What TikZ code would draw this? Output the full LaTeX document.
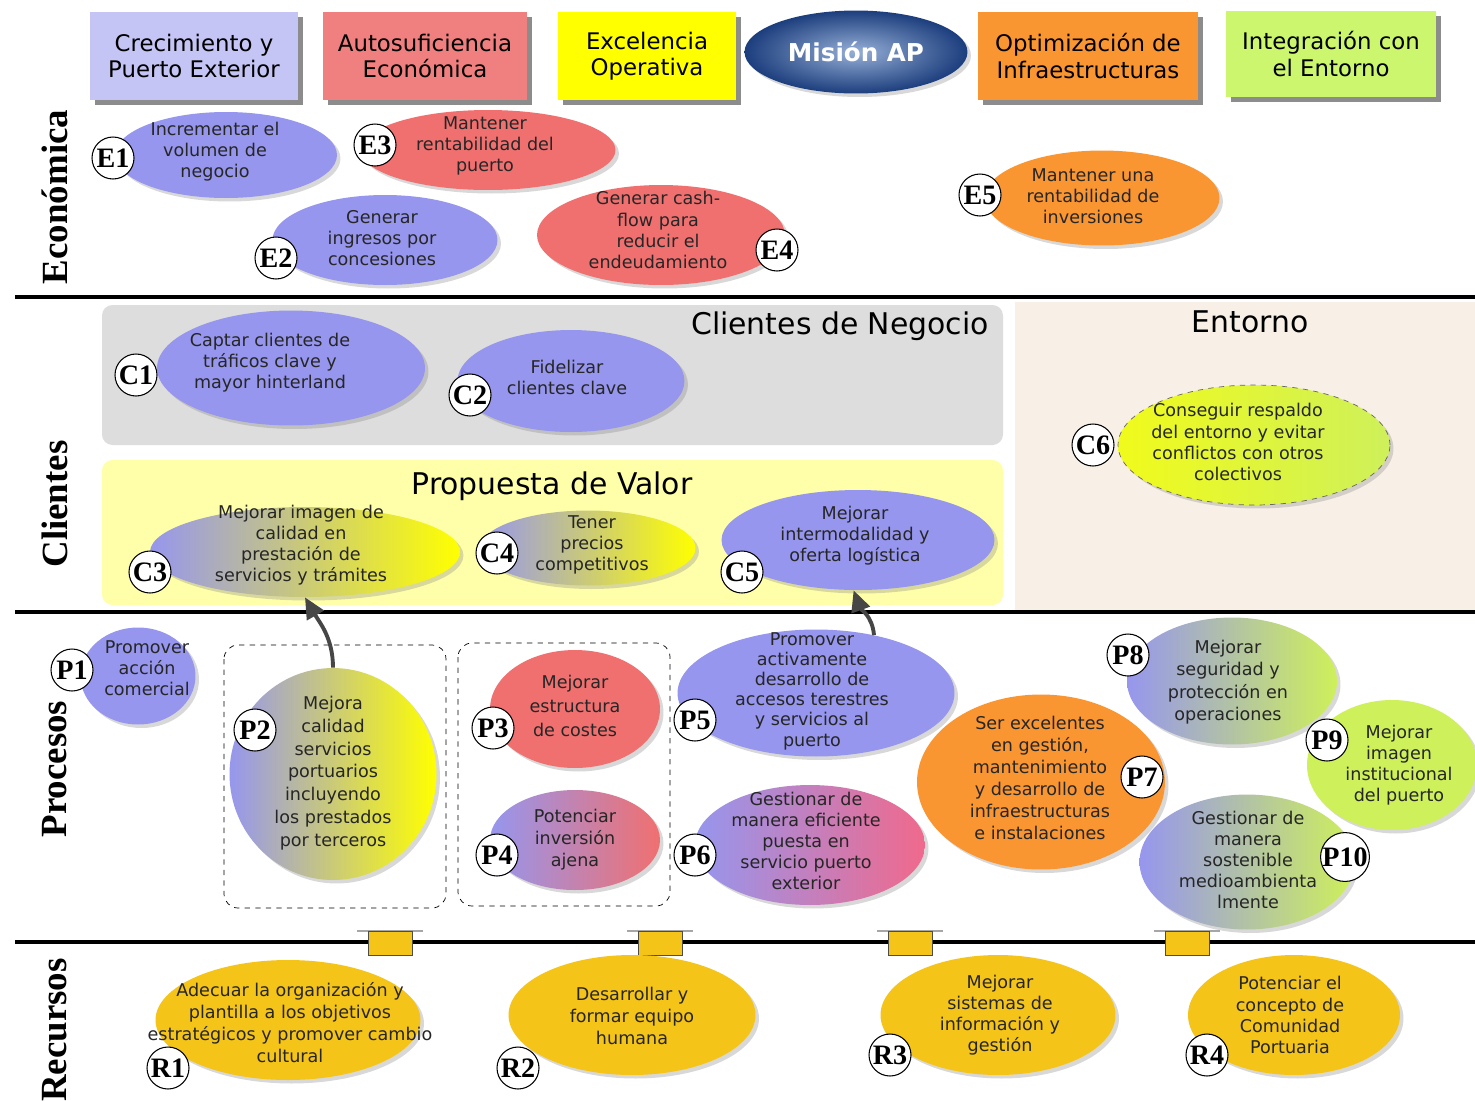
\documentclass[tikz,border=0pt]{standalone}
\usepackage{fontspec}
\setmainfont{DejaVu Sans}
\newfontfamily\tagfont{Liberation Serif}
\usetikzlibrary{arrows.meta,positioning,shapes.geometric,calc,shadows}
\definecolor{lav}{RGB}{150,150,238}
\definecolor{hdrlav}{RGB}{196,196,245}
\definecolor{hdrred}{RGB}{240,128,128}
\definecolor{ovred}{RGB}{240,112,112}
\definecolor{hdryel}{RGB}{255,255,0}
\definecolor{ovorange}{RGB}{250,150,50}
\definecolor{hdrgreen}{RGB}{204,246,110}
\definecolor{ovgreen}{RGB}{206,240,90}
\definecolor{ovgold}{RGB}{245,196,25}
\definecolor{ovpink}{RGB}{240,105,140}
\definecolor{midgray}{RGB}{185,185,175}
\definecolor{boxgray}{RGB}{221,221,221}
\definecolor{boxyel}{RGB}{255,255,170}
\definecolor{boxbeige}{RGB}{248,240,230}
\definecolor{misdark}{RGB}{28,62,125}
\definecolor{mislight}{RGB}{150,175,215}

\begin{document}
\begin{tikzpicture}[x=0.02cm,y=-0.02cm,
  hdr/.style={rectangle, minimum height=1.76cm, align=center, inner sep=0pt,
    font=\fontsize{13}{15}\selectfont,
    drop shadow={shadow xshift=0.1cm, shadow yshift=-0.1cm, fill=black!45, opacity=1}},
  oval/.style={ellipse, inner sep=0pt,
    drop shadow={shadow xshift=0.07cm, shadow yshift=-0.07cm, opacity=0.3}},
  txt/.style={align=center, inner sep=0pt, text=black!85, font=\fontsize{10}{12}\selectfont},
  tag/.style={circle, draw, line width=0.6pt, fill=white, inner sep=0pt, minimum size=0.84cm,
    font=\tagfont\bfseries\fontsize{16}{16}\selectfont},
  side/.style={rotate=90, font=\tagfont\bfseries\fontsize{21}{21}\selectfont},
  sectitle/.style={font=\fontsize{17}{19}\selectfont},
  sep/.style={line width=2.3pt},
  flow/.style={-{Triangle[length=0.42cm,width=0.38cm]}, line width=2.2pt, draw=gray!55!black}]
  \fill[white] (0,0) rectangle (1475,1100);
  \useasboundingbox (0,0) rectangle (1475,1100);

  % cabecera
  \node[hdr, fill=hdrlav, minimum width=4.16cm] (h1) at (194,56) {Crecimiento y\\Puerto Exterior};
  \node[hdr, fill=hdrred, minimum width=4.1cm] (h2) at (425,56) {Autosuficiencia\\Económica};
  \node[hdr, fill=hdryel, minimum width=3.58cm] (h3) at (647,56) {Excelencia\\Operativa};
  \node[oval, minimum width=4.46cm, minimum height=1.66cm, inner color=mislight, outer color=misdark,
    text=white, font=\bfseries\fontsize{14}{14}\selectfont] (mision) at (856,52) {Misión AP};
  \node[hdr, fill=ovorange, minimum width=4.4cm] (h4) at (1088,56) {Optimización de\\Infraestructuras};
  \node[hdr, fill=hdrgreen, minimum width=4.2cm, minimum height=1.74cm] (h5) at (1331,54) {Integración con\\el Entorno};

  % fondos
  \fill[boxgray, rounded corners=6pt] (102,305) rectangle (1003,445);
  \fill[boxyel, rounded corners=6pt] (102,460) rectangle (1003,605);
  \fill[boxbeige] (1015,302) rectangle (1475,610);
  \node[sectitle] (negocio) at (840,326) {Clientes de Negocio};
  \node[sectitle] (valor) at (552,486) {Propuesta de Valor};
  \node[sectitle] (entorno) at (1250,322) {Entorno};

  \draw[sep] (15,297) -- (1475,297);
  \draw[sep] (15,612) -- (1475,612);
  \draw[sep] (15,942) -- (1475,942);

  \node[side] (secE) at (55,197) {Económica};
  \node[side] (secC) at (55,504) {Clientes};
  \node[side] (secP) at (55,769) {Procesos};
  \node[side] (secR) at (55,1030) {Recursos};

  % economica
  \node[oval, fill=lav, minimum width=4.44cm, minimum height=1.72cm] (e1) at (226,155) {};
  \node[txt] (e1t) at (215,152) {Incrementar el\\volumen de\\negocio};
  \node[oval, fill=ovred, minimum width=5.1cm, minimum height=1.6cm] (e3) at (488,150) {};
  \node[txt] (e3t) at (485,146) {Mantener\\rentabilidad del\\puerto};
  \node[oval, fill=lav, minimum width=4.5cm, minimum height=1.8cm] (e2) at (385,240) {};
  \node[txt] (e2t) at (382,238) {Generar\\ingresos por\\concesiones};
  \node[oval, fill=ovred, minimum width=4.96cm, minimum height=2cm] (e4) at (661,235) {};
  \node[txt] (e4t) at (658,230) {Generar cash-\\flow para\\reducir el\\endeudamiento};
  \node[oval, fill=ovorange, minimum width=4.7cm, minimum height=1.9cm] (e5) at (1102,198) {};
  \node[txt] (e5t) at (1093,196) {Mantener una\\rentabilidad de\\inversiones};
  \node[tag] (e1n) at (113,158) {E1};
  \node[tag] (e3n) at (375,145) {E3};
  \node[tag] (e2n) at (276,258) {E2};
  \node[tag] (e4n) at (777,250) {E4};
  \node[tag] (e5n) at (980,195) {E5};

  % clientes
  \node[oval, fill=lav, minimum width=5.36cm, minimum height=2.3cm] (c1) at (291,368) {};
  \node[txt] (c1t) at (270,363) {Captar clientes de\\tráficos clave y\\mayor hinterland};
  \node[oval, fill=lav, minimum width=4.54cm, minimum height=2.04cm] (c2) at (571,381) {};
  \node[txt] (c2t) at (567,377) {Fidelizar\\clientes clave};
  \node[oval, left color=lav, middle color=lav!65!midgray, right color=hdryel,
    minimum width=6.2cm, minimum height=1.8cm] (c3) at (305,552) {};
  \node[txt] (c3t) at (301,545) {Mejorar imagen de\\calidad en\\prestación de\\servicios y trámites};
  \node[oval, left color=lav, middle color=lav!65!midgray, right color=hdryel,
    minimum width=4.3cm, minimum height=1.5cm] (c4) at (588,548) {};
  \node[txt] (c4t) at (592,545) {Tener\\precios\\competitivos};
  \node[oval, fill=lav, minimum width=5.46cm, minimum height=2cm] (c5) at (858,540) {};
  \node[txt] (c5t) at (855,536) {Mejorar\\intermodalidad y\\oferta logística};
  \node[oval, left color=hdryel!70!ovgreen, right color=ovgreen, draw=black!60, dashed,
    minimum width=5.44cm, minimum height=2.4cm] (c6) at (1254,445) {};
  \node[txt] (c6t) at (1238,442) {Conseguir respaldo\\del entorno y evitar\\conflictos con otros\\colectivos};
  \node[tag] (c1n) at (136,375) {C1};
  \node[tag] (c2n) at (470,395) {C2};
  \node[tag] (c3n) at (150,572) {C3};
  \node[tag] (c4n) at (497,553) {C4};
  \node[tag] (c5n) at (742,572) {C5};
  \node[tag] (c6n) at (1093,445) {C6};

  % procesos
  \draw[dashed, rounded corners=8pt] (224,645) rectangle (446,908);
  \draw[dashed, rounded corners=8pt] (458,643) rectangle (670,906);
  \node[oval, fill=lav, minimum width=2.3cm, minimum height=1.94cm] (p1) at (138,676) {};
  \node[txt] (p1t) at (147,668) {Promover\\acción\\comercial};
  \node[oval, left color=lav, middle color=midgray, right color=hdryel,
    minimum width=4.14cm, minimum height=4.24cm] (p2) at (333,774) {};
  \node[txt, font=\fontsize{10}{13}\selectfont] (p2t) at (333,773)
    {Mejora\\calidad\\servicios\\portuarios\\incluyendo\\los prestados\\por terceros};
  \node[oval, fill=ovred, minimum width=3.4cm, minimum height=2.36cm] (p3) at (575,709) {};
  \node[txt, font=\fontsize{10}{13.5}\selectfont] (p3t) at (575,706) {Mejorar\\estructura\\de costes};
  \node[oval, left color=lav, right color=ovred, minimum width=3.4cm, minimum height=2cm] (p4) at (575,840) {};
  \node[txt, font=\fontsize{10}{12.5}\selectfont] (p4t) at (575,840) {Potenciar\\inversión\\ajena};
  \node[oval, fill=lav, minimum width=5.54cm, minimum height=2.54cm] (p5) at (816,693) {};
  \node[txt, font=\fontsize{10}{11.5}\selectfont] (p5t) at (812,691)
    {Promover\\activamente\\desarrollo de\\accesos terestres\\y servicios al\\puerto};
  \node[oval, left color=lav, right color=ovpink, minimum width=4.6cm, minimum height=2.4cm] (p6) at (810,845) {};
  \node[txt] (p6t) at (806,841) {Gestionar de\\manera eficiente\\puesta en\\servicio puerto\\exterior};
  \node[oval, fill=ovorange, minimum width=4.96cm, minimum height=3.5cm] (p7) at (1041,782) {};
  \node[txt, font=\fontsize{10}{12.5}\selectfont] (p7t) at (1040,778)
    {Ser excelentes\\en gestión,\\mantenimiento\\y desarrollo de\\infraestructuras\\e instalaciones};
  \node[oval, left color=lav, right color=ovgreen, minimum width=4.2cm, minimum height=2.54cm] (p8) at (1232,681) {};
  \node[txt, font=\fontsize{10}{12.8}\selectfont] (p8t) at (1228,682)
    {Mejorar\\seguridad y\\protección en\\operaciones};
  \node[oval, fill=ovgreen, minimum width=3.4cm, minimum height=2.6cm] (p9) at (1392,765) {};
  \node[txt] (p9t) at (1399,765) {Mejorar\\imagen\\institucional\\del puerto};
  \node[oval, left color=lav, right color=ovgreen, minimum width=4.3cm, minimum height=2.7cm] (p10) at (1247,862) {};
  \node[txt] (p10t) at (1248,860) {Gestionar de\\manera\\sostenible\\medioambienta\\lmente};
  \node[tag] (p1n) at (72,670) {P1};
  \node[tag] (p2n) at (255,730) {P2};
  \node[tag] (p3n) at (493,728) {P3};
  \node[tag] (p4n) at (497,855) {P4};
  \node[tag] (p5n) at (695,720) {P5};
  \node[tag] (p6n) at (695,855) {P6};
  \node[tag] (p7n) at (1142,777) {P7};
  \node[tag] (p8n) at (1128,655) {P8};
  \node[tag] (p9n) at (1327,740) {P9};
  \node[tag, minimum size=0.9cm] (p10n) at (1345,857) {P10};

  \draw[flow] (p2.north) to[out=90, in=-60] (c3.south);
  \draw[flow] (p5.45) to[out=95, in=-70] (c5.265);

  % recursos
  \foreach \cx in {390,660,910,1187}{
    \draw[gray!70, line width=0.8pt] (\cx-33,931) -- (\cx+33,931);
    \draw[fill=ovgold, draw=gray!60!black, line width=0.5pt] (\cx-22,931) rectangle (\cx+22,955);
  }
  \node[oval, fill=ovgold, minimum width=5.3cm, minimum height=2.4cm] (r1) at (288,1020) {};
  \node[txt, font=\fontsize{10}{12.5}\selectfont] (r1t) at (290,1023)
    {Adecuar la organización y\\plantilla a los objetivos\\estratégicos y promover cambio\\cultural};
  \node[oval, fill=ovgold, minimum width=4.94cm, minimum height=2.4cm] (r2) at (632,1015) {};
  \node[txt, font=\fontsize{10}{12.5}\selectfont] (r2t) at (632,1016) {Desarrollar y\\formar equipo\\humana};
  \node[oval, fill=ovgold, minimum width=4.7cm, minimum height=2.4cm] (r3) at (998,1015) {};
  \node[txt] (r3t) at (1000,1015) {Mejorar\\sistemas de\\información y\\gestión};
  \node[oval, fill=ovgold, minimum width=4.24cm, minimum height=2.4cm] (r4) at (1294,1015) {};
  \node[txt] (r4t) at (1290,1015) {Potenciar el\\concepto de\\Comunidad\\Portuaria};
  \node[tag] (r1n) at (168,1068) {R1};
  \node[tag] (r2n) at (518,1068) {R2};
  \node[tag] (r3n) at (890,1055) {R3};
  \node[tag] (r4n) at (1207,1055) {R4};
\end{tikzpicture}
\end{document}
